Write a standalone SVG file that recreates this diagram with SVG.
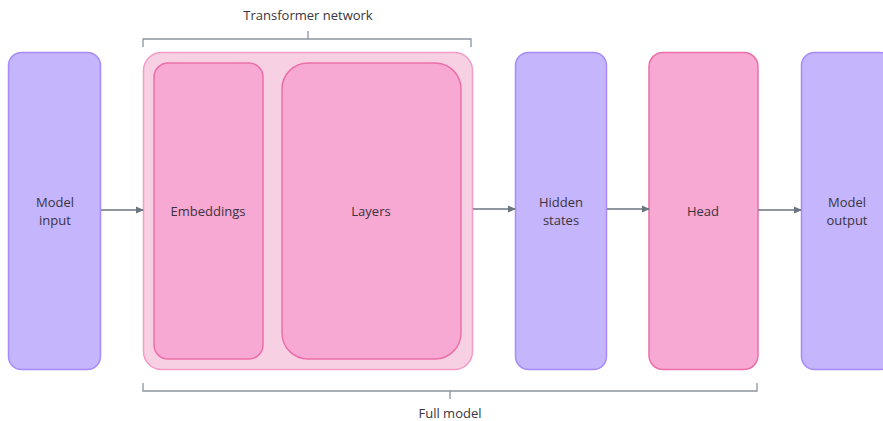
<svg xmlns="http://www.w3.org/2000/svg" width="883" height="421" viewBox="0 0 883 421">
  <style>
    .purple { fill: #c4b5fd; stroke: #a78bfa; stroke-width: 1.5; }
    .pink { fill: #f7a8d3; stroke: #ec6fa9; stroke-width: 1.5; }
    .outer { fill: #f8d0e3; stroke: #f29cc6; stroke-width: 1.5; }
    .label { font-family: "Open Sans", "Noto Sans", "Liberation Sans", sans-serif; font-size: 13px; fill: #3a3440; text-anchor: middle; }
    .edge { stroke: #6b7580; stroke-width: 1.5; fill: none; }
    .brace { stroke: #8a949e; stroke-width: 1.3; fill: none; }
  </style>
  <defs>
    <marker id="arrow" markerWidth="8" markerHeight="8" refX="7" refY="4" orient="auto" markerUnits="userSpaceOnUse">
      <path d="M0,0.5 L8,4 L0,7.5 Z" fill="#6b7580"/>
    </marker>
  </defs>
  <rect width="883" height="421" fill="#ffffff"/>

  <!-- brace above the transformer block -->
  <g id="transformer-brace">
    <path class="brace" d="M143,47 L143,39 L471,39 L471,47 M308,39 L308,31"/>
    <text class="label" x="308" y="20">Transformer network</text>
  </g>

  <!-- brace below the full pipeline -->
  <g id="full-model-brace">
    <path class="brace" d="M143,383 L143,391 L757,391 L757,383 M450,391 L450,399"/>
    <text class="label" x="450" y="418">Full model</text>
  </g>

  <g id="model-input">
    <rect class="purple" x="8.5" y="52.5" width="92" height="317" rx="13"/>
    <text class="label" x="55" y="207">Model</text>
    <text class="label" x="55" y="225">input</text>
  </g>

  <g id="transformer">
    <rect class="outer" x="143.5" y="52.5" width="329" height="317" rx="18"/>
  </g>

  <g id="embeddings">
    <rect class="pink" x="154" y="63" width="109" height="296" rx="14"/>
    <text class="label" x="208" y="216">Embeddings</text>
  </g>

  <g id="layers">
    <rect class="pink" x="282" y="63" width="179" height="296" rx="26"/>
    <text class="label" x="371" y="216">Layers</text>
  </g>

  <g id="hidden-states">
    <rect class="purple" x="515.5" y="52.5" width="91" height="317" rx="13"/>
    <text class="label" x="561" y="207">Hidden</text>
    <text class="label" x="561" y="225">states</text>
  </g>

  <g id="head">
    <rect class="pink" x="649" y="52.5" width="109" height="317" rx="14"/>
    <text class="label" x="703" y="216">Head</text>
  </g>

  <g id="model-output">
    <rect class="purple" x="801.5" y="52.5" width="92" height="317" rx="13"/>
    <text class="label" x="847" y="207">Model</text>
    <text class="label" x="847" y="225">output</text>
  </g>

  <g id="connectors">
    <line class="edge" x1="101" y1="210" x2="143" y2="210" marker-end="url(#arrow)"/>
    <line class="edge" x1="473" y1="209" x2="515" y2="209" marker-end="url(#arrow)"/>
    <line class="edge" x1="607" y1="209" x2="649" y2="209" marker-end="url(#arrow)"/>
    <line class="edge" x1="758" y1="210" x2="801" y2="210" marker-end="url(#arrow)"/>
  </g>
</svg>
